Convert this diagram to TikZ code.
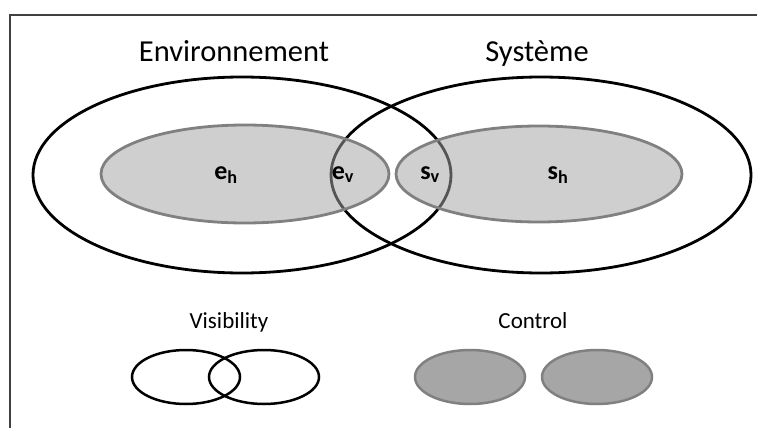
\documentclass[tikz,border=0pt]{standalone}
\usepackage{fontspec}
\setmainfont{Carlito}
\tikzset{
  setline/.style={draw=black, line width=2.8pt},
  zone/.style={draw=black!50, line width=2.8pt, fill=black!36, fill opacity=0.52},
  ctrl/.style={draw=black!50, line width=2.5pt, fill=black!35},
  title/.style={anchor=base, font=\fontsize{30.5}{36}\selectfont},
  legend/.style={anchor=base, font=\fontsize{23}{28}\selectfont},
  var/.style={anchor=base, font=\fontsize{26}{30}\selectfont\bfseries}
}
\begin{document}
\begin{tikzpicture}[x=1pt, y=-1pt]
    \useasboundingbox (0,0) rectangle (757,428);
    \draw[black!75, line width=1.5pt] (757,15) -- (10,15) -- (10,428);
    \coordinate (E) at (242,175);
    \coordinate (S) at (541,175);
    \coordinate (EH) at (245,174);
    \coordinate (SH) at (539,174);
    \draw[setline] (E) ellipse (209 and 98);
    \draw[setline] (S) ellipse (210 and 98);
    \draw[zone] (EH) ellipse (144 and 49);
    \draw[zone] (SH) ellipse (143 and 48);
    \node[title] (env) at (234,62) {Environnement};
    \node[title] (sys) at (537,62) {Système};
    \node[var] (eh) at (226,179) {e\textsubscript{h}};
    \node[var] (ev) at (343,179) {e\textsubscript{v}};
    \node[var] (sv) at (430,179) {s\textsubscript{v}};
    \node[var] (sh) at (558,179) {s\textsubscript{h}};
    % legend
    \node[legend] (vis) at (229,328) {Visibility};
    \node[legend] (ctl) at (533,328) {Control};
    \draw[setline, line width=2.5pt] (186,377) ellipse (54 and 27);
    \draw[setline, line width=2.5pt] (264,377) ellipse (55 and 27);
    \draw[ctrl] (470,377) ellipse (55 and 27);
    \draw[ctrl] (597,377) ellipse (55 and 27);
\end{tikzpicture}
\end{document}
